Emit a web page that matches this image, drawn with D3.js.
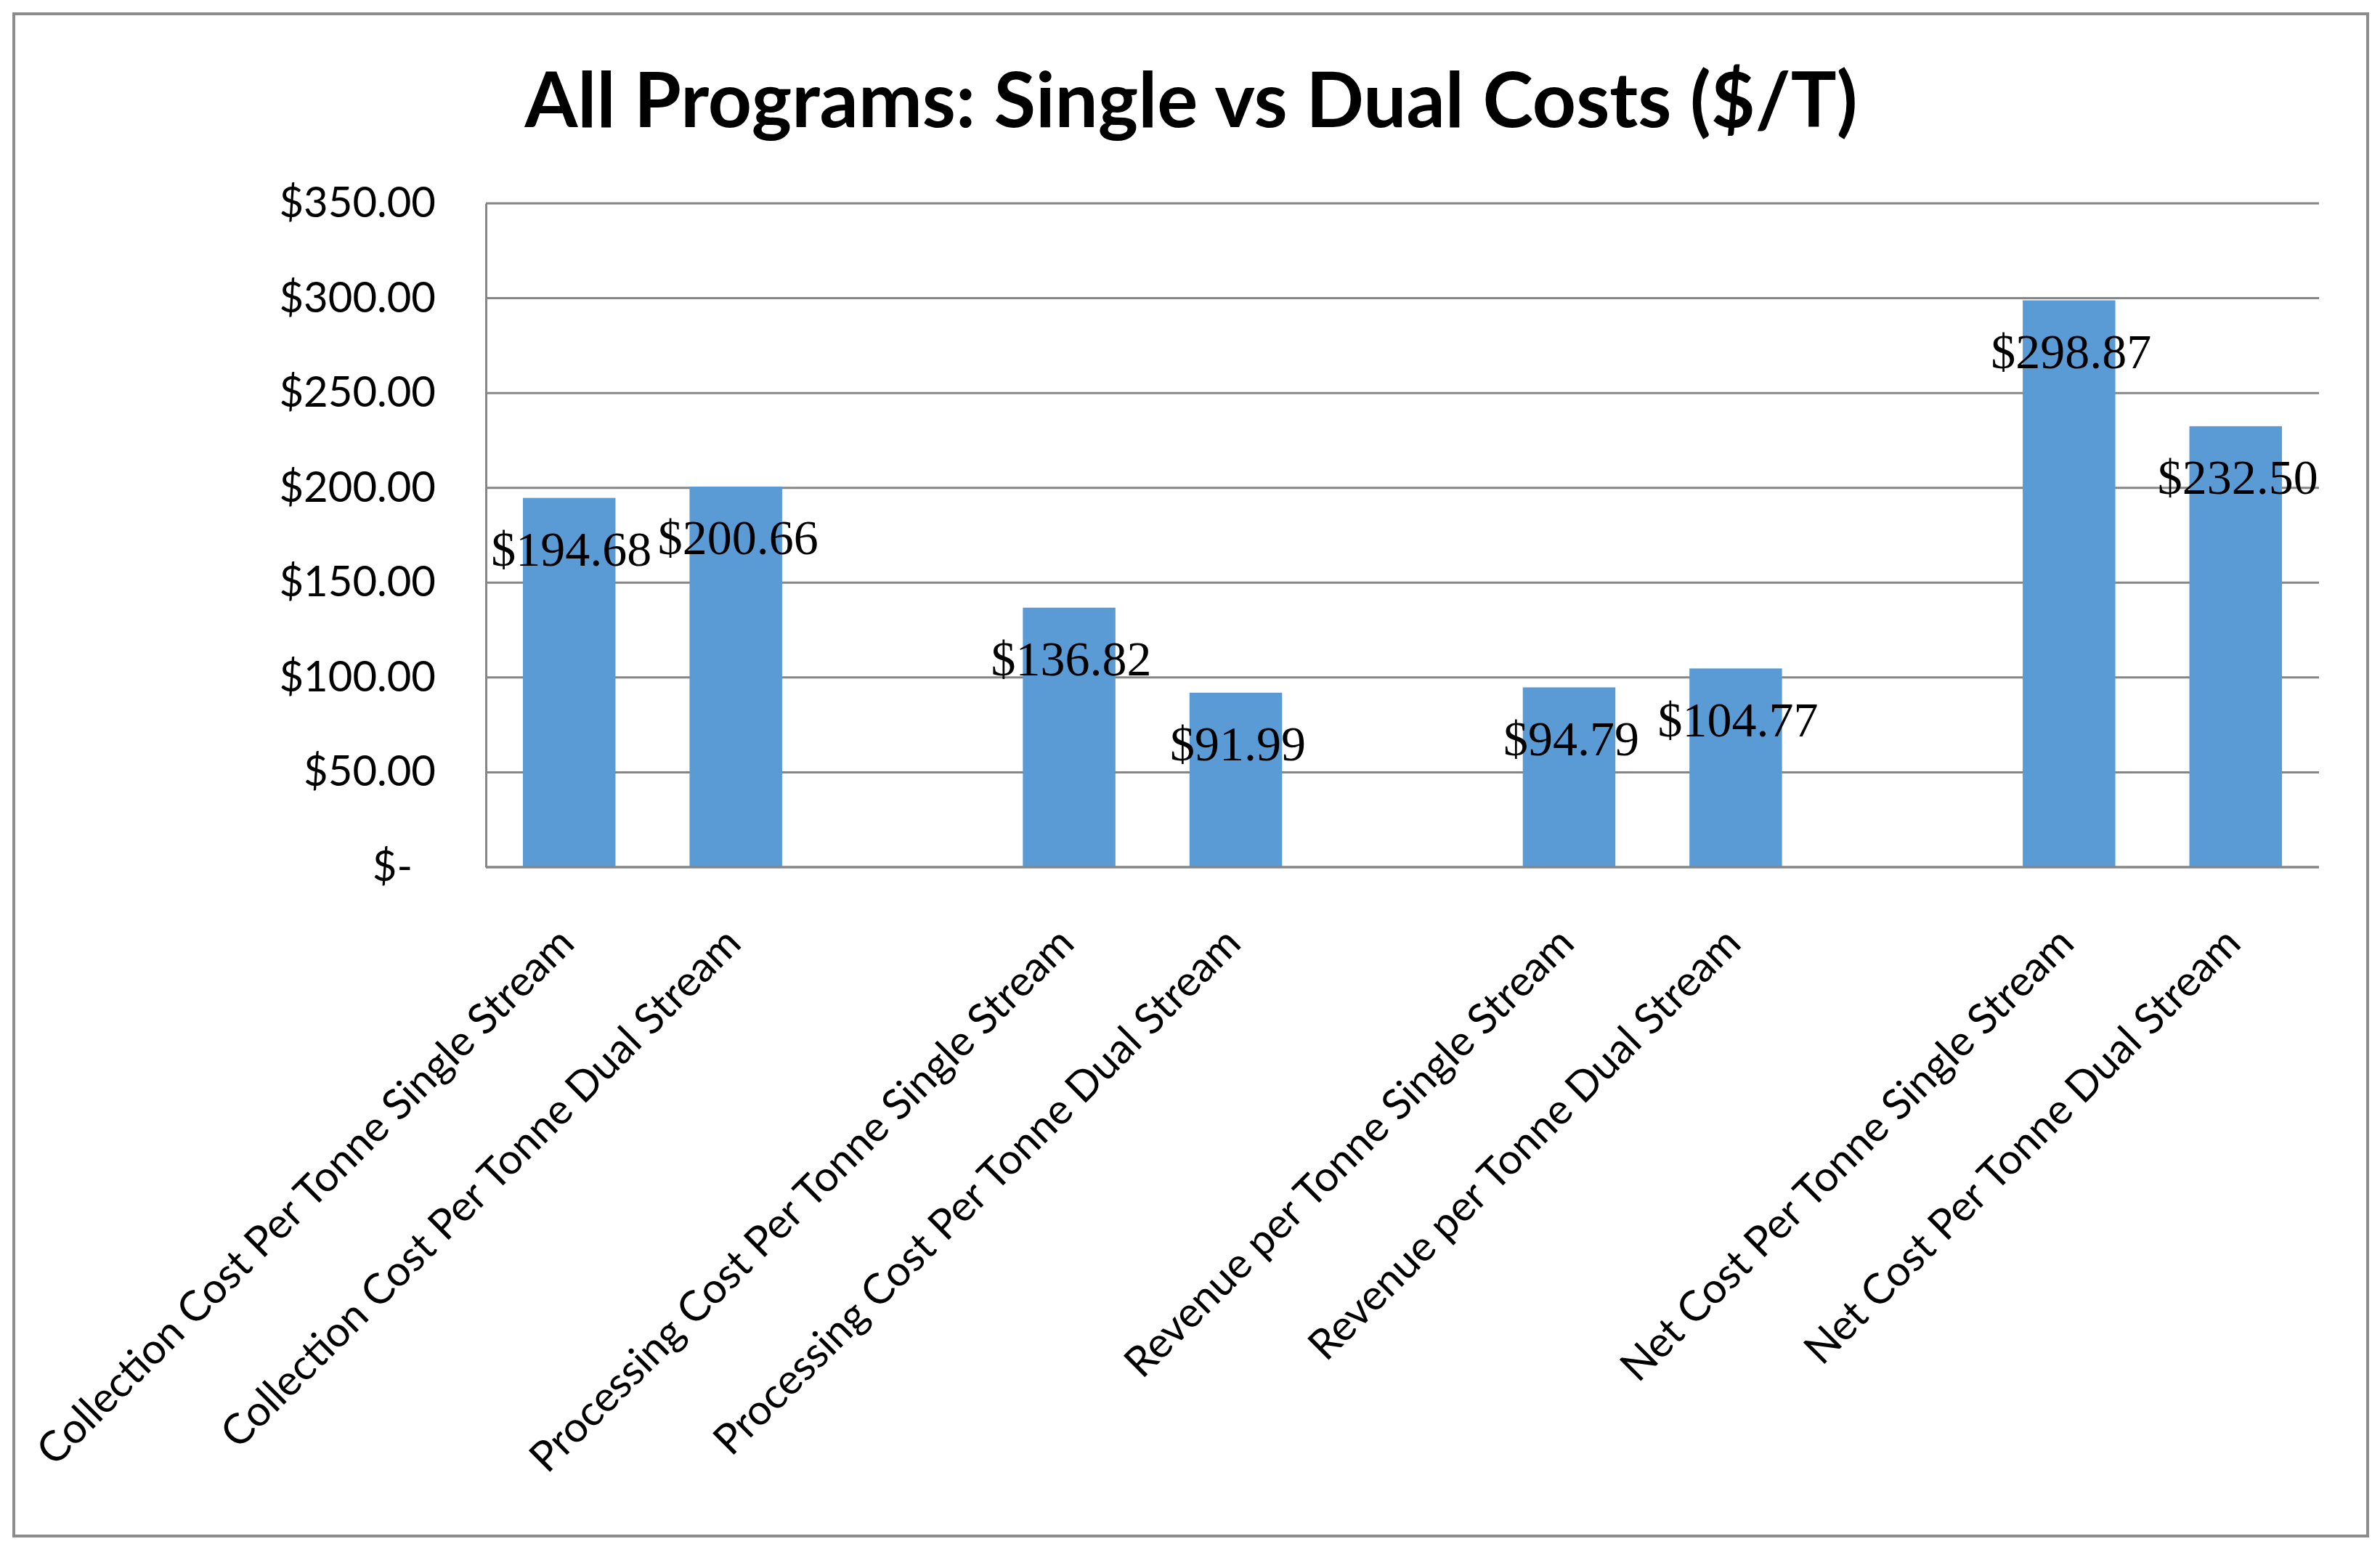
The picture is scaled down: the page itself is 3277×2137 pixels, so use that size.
<!DOCTYPE html>
<html>
<head>
<meta charset="utf-8">
<title>All Programs: Single vs Dual Costs ($/T)</title>
<script src="https://cdn.jsdelivr.net/npm/d3@7"></script>
<style>
    body { margin: 0; background: #ffffff; }
    .chart text { fill: #000000; }
</style>
</head>
<body>
<div class="chart"></div>
<script>

// Datos
const categories = [
    "Collection Cost Per Tonne Single Stream",
    "Collection Cost Per Tonne Dual Stream",
    "",
    "Processing Cost Per Tonne Single Stream",
    "Processing Cost Per Tonne Dual Stream",
    "",
    "Revenue per Tonne Single Stream",
    "Revenue per Tonne Dual Stream",
    "",
    "Net Cost Per Tonne Single Stream",
    "Net Cost Per Tonne Dual Stream"
];

const values = [194.68, 200.66, null, 136.82, 91.99, null, 94.79, 104.77, null, 298.87, 232.50];

const yTicks = [0, 50, 100, 150, 200, 250, 300, 350];

const title = "All Programs: Single vs Dual Costs ($/T)";

function drawBars(){

    d3.select(".chart")
        .selectAll("*")
        .remove();

    const width = 3277;
    const height = 2137;

    const plot = {
        left: 669,
        right: 3193,
        top: 280,
        bottom: 1194
    };

    const svg = d3.select(".chart")
        .append("svg")
        .attr("width", width)
        .attr("height", height);

    // borde del grafico
    svg.append("rect")
        .attr("x", 19)
        .attr("y", 19)
        .attr("width", 3241)
        .attr("height", 2096)
        .attr("fill", "#ffffff")
        .attr("stroke", "#8c8c8c")
        .attr("stroke-width", 4);

    svg.append("text")
        .attr("x", 1640)
        .attr("y", 175)
        .attr("text-anchor", "middle")
        .style("font-family", "Lato, 'Open Sans', sans-serif")
        .style("font-weight", "700")
        .style("font-size", "105px")
        .text(title);

    const rows = categories.map((c, i) => ({ i: i, name: c, value: values[i] }));

    //Ejes

    const x = d3.scaleBand()
        .domain(d3.range(categories.length))
        .range([plot.left, plot.right])
        .padding(0);

    const y = d3.scaleLinear()
        .domain([0, 350])
        .range([plot.bottom, plot.top]);

    const fmt = d3.format("$,.2f");

    // lineas de cuadricula
    svg.append("g")
        .selectAll("line")
        .data(yTicks)
        .enter()
        .append("line")
        .attr("x1", plot.left)
        .attr("x2", plot.right)
        .attr("y1", d => y(d))
        .attr("y2", d => y(d))
        .attr("stroke", "#868686")
        .attr("stroke-width", 3);

    const yAxis = svg.append("g")
        .attr("transform", `translate(${plot.left},0)`)
        .call(
            d3.axisLeft(y)
                .tickValues(yTicks)
                .tickSize(0)
                .tickPadding(69)
                .tickFormat(d => d === 0 ? "$-" : fmt(d))
        );

    yAxis.select(".domain")
        .attr("stroke", "#868686")
        .attr("stroke-width", 3);

    yAxis.selectAll("text")
        .style("font-family", "Lato, 'Open Sans', sans-serif")
        .style("font-size", "58px")
        .attr("dx", d => d === 0 ? -32 : 0);

    //Barras

    const barW = x.bandwidth() / 1.8;

    const bars = rows.filter(d => d.value != null);

    svg.append("g")
        .selectAll("rect")
        .data(bars)
        .enter()
        .append("rect")
        .attr("x", d => x(d.i) + (x.bandwidth() - barW) / 2)
        .attr("y", d => y(d.value))
        .attr("width", barW)
        .attr("height", d => y(0) - y(d.value))
        .attr("fill", "#5b9bd5");

    // eje inferior
    svg.append("line")
        .attr("x1", plot.left)
        .attr("x2", plot.right)
        .attr("y1", y(0))
        .attr("y2", y(0))
        .attr("stroke", "#868686")
        .attr("stroke-width", 3);

    // etiquetas de valores
    svg.append("g")
        .selectAll("text")
        .data(bars)
        .enter()
        .append("text")
        .attr("x", d => x(d.i) + x.bandwidth() / 2 + 3)
        .attr("y", d => y(d.value) + 70)
        .attr("dy", "0.34em")
        .attr("text-anchor", "middle")
        .style("font-family", "'Liberation Serif', 'DejaVu Serif', serif")
        .style("font-size", "68px")
        .text(d => fmt(d.value));

    // etiquetas de categorias
    svg.append("g")
        .selectAll("text")
        .data(rows.filter(d => d.name !== ""))
        .enter()
        .append("text")
        .attr("transform", d =>
            `translate(${x(d.i) + x.bandwidth() / 2 + 10},${y(0) + 108}) rotate(-45)`
        )
        .attr("text-anchor", "end")
        .style("font-family", "Lato, 'Open Sans', sans-serif")
        .style("font-size", "58px")
        .text(d => d.name);

}

drawBars();

</script>
</body>
</html>
